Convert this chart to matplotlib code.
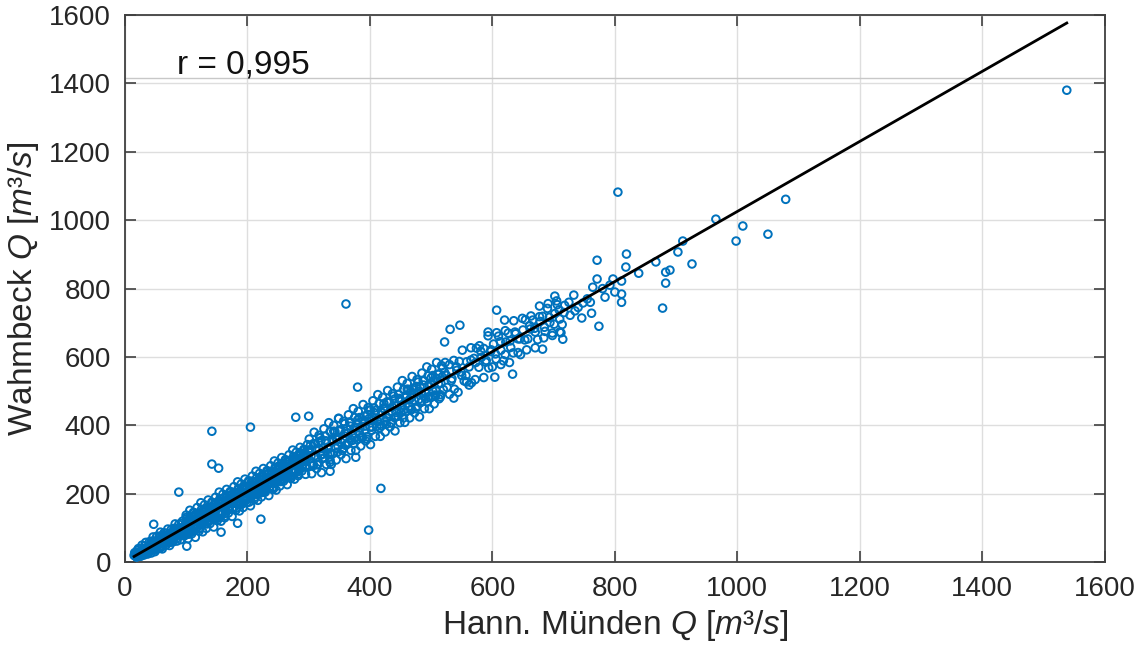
import matplotlib

matplotlib.use("Agg")
import matplotlib.pyplot as plt
import numpy as np

# ---------------------------------------------------------------------------
# data: daily discharge pairs, Hann. Münden (x) vs Wahmbeck (y), m3/s
# ---------------------------------------------------------------------------
low_x = [15, 17, 19, 21, 23, 25, 27, 29, 31, 33, 35, 37, 39, 41, 43, 45, 47, 49, 51, 53,
         55, 57, 59, 61, 63, 65, 67, 69, 71, 73, 75, 77, 79, 81, 83, 85, 87, 89, 91, 93,
         95, 97, 99,
         16, 18, 20, 22, 24, 26, 28, 30, 32, 34, 36, 38, 40, 42, 44, 46, 48, 50, 52, 54,
         56, 58, 60, 62, 64, 66, 68, 70, 72, 74, 76, 78, 80, 82, 84, 86, 88, 90, 92, 94,
         96, 98, 100,
         18, 21, 24, 27, 30, 33, 36, 39, 42, 45, 48, 51, 54, 57, 60, 63, 66, 69, 72, 75,
         78, 81, 84, 87, 90, 93, 96, 99]
low_y = [20, 19, 24, 21, 20, 28, 32, 27, 28, 39, 36, 32, 43, 48, 40, 47, 56, 45, 41, 58,
         56, 44, 64, 76, 57, 67, 78, 66, 60, 83, 76, 63, 85, 96, 77, 87, 98, 86, 81, 98,
         96, 82, 105,
         24, 17, 26, 25, 21, 30, 35, 28, 30, 42, 37, 31, 49, 55, 36, 50, 62, 44, 40, 63,
         57, 42, 70, 80, 57, 67, 79, 64, 58, 84, 78, 62, 90, 97, 78, 88, 100, 85, 78, 100,
         98, 80, 109,
         22, 28, 25, 26, 35, 31, 41, 37, 39, 52, 46, 58, 50, 62, 55, 70, 60, 75, 71, 68,
         88, 79, 92, 82, 97, 90, 104, 94]

low_outer_x = [16, 19, 22, 25, 28, 31, 34, 37, 40, 43, 46, 49, 52, 55, 58, 61, 64, 67, 70,
               73, 76, 79, 82, 85, 88, 91, 94, 97, 100,
               20, 26, 32, 38, 44, 50, 56, 62, 68, 74, 80, 86, 92, 98]
low_outer_y = [28, 15, 40, 18, 50, 21, 58, 24, 60, 27, 74, 31, 76, 40, 88, 39, 86, 50, 97,
               49, 97, 60, 112, 62, 111, 66, 120, 77, 131,
               34, 18, 48, 27, 62, 37, 76, 47, 85, 58, 99, 72, 113, 82]

band_x = [101, 103, 105, 107, 109, 111, 113, 115, 117, 119, 121, 123, 125, 127, 129, 131,
          133, 135, 137, 139, 141, 143, 145, 147, 149, 151, 153, 155, 157, 159, 161, 163,
          165, 167, 169, 171, 173, 175, 177, 179, 181, 183, 185, 187, 189, 191, 193, 195,
          197, 199, 201, 203, 205, 207, 209, 211, 213, 215, 217, 219, 221, 223, 225, 227,
          229, 231, 233, 235, 237, 239, 241, 243, 245, 247, 249, 251, 253, 255, 257, 259,
          261, 263, 265, 267, 269, 271, 273, 275, 277, 279, 281, 283, 285, 287, 289, 291,
          293, 295, 297, 299,
          102, 104, 106, 108, 110, 112, 114, 116, 118, 120, 122, 124, 126, 128, 130, 132,
          134, 136, 138, 140, 142, 144, 146, 148, 150, 152, 154, 156, 158, 160, 162, 164,
          166, 168, 170, 172, 174, 176, 178, 180, 182, 184, 186, 188, 190, 192, 194, 196,
          198, 200, 202, 204, 206, 208, 210, 212, 214, 216, 218, 220, 222, 224, 226, 228,
          230, 232, 234, 236, 238, 240, 242, 244, 246, 248, 250, 252, 254, 256, 258, 260,
          262, 264, 266, 268, 270, 272, 274, 276, 278, 280, 282, 284, 286, 288, 290, 292,
          294, 296, 298, 300]
band_y = [116, 93, 127, 106, 91, 118, 132, 109, 103, 132, 123, 101, 135, 150, 121, 136,
          151, 132, 121, 148, 156, 133, 167, 146, 131, 160, 177, 148, 140, 175, 163, 135,
          178, 196, 159, 177, 195, 171, 157, 190, 200, 170, 212, 186, 167, 200, 217, 188,
          180, 215, 204, 176, 219, 237, 200, 218, 236, 212, 198, 231, 241, 211, 253, 227,
          208, 241, 258, 229, 221, 256, 244, 216, 259, 277, 240, 260, 278, 254, 240, 273,
          283, 253, 295, 269, 250, 283, 300, 271, 263, 298, 286, 258, 301, 319, 282, 300,
          318, 294, 280, 313,
          97, 91, 122, 110, 90, 122, 138, 108, 122, 138, 118, 110, 135, 141, 120, 154,
          133, 119, 145, 159, 137, 131, 162, 150, 130, 163, 179, 149, 163, 179, 159, 151,
          176, 182, 161, 195, 174, 160, 186, 200, 178, 172, 203, 191, 171, 203, 219, 189,
          203, 219, 200, 192, 217, 223, 202, 236, 215, 201, 227, 241, 219, 213, 244, 232,
          212, 244, 260, 230, 244, 260, 240, 232, 257, 263, 242, 278, 257, 243, 269, 283,
          261, 255, 286, 274, 254, 286, 302, 272, 286, 302, 282, 274, 299, 305, 284, 318,
          297, 283, 309, 323]

band_outer_x = [100, 103, 106, 109, 112, 115, 118, 121, 124, 127, 130, 133, 136, 139, 142,
                145, 148, 151, 154, 157, 160, 163, 166, 169, 172, 175, 178, 181, 184, 187,
                190, 193, 196, 199, 202, 205, 208, 211, 214, 217, 220, 223, 226, 229, 232,
                235, 238, 241, 244, 247, 250, 253, 256, 259, 262, 265, 268, 271, 274, 277,
                280, 283, 286, 289, 292, 295, 298,
                101, 104, 107, 110, 113, 116, 119, 122, 125, 128, 131, 134, 137, 140, 143,
                146, 149, 152, 155, 158, 161, 164, 167, 170, 173, 176, 179, 182, 185, 188,
                191, 194, 197, 200, 203, 206, 209, 212, 215, 218, 221, 224, 227, 230, 233,
                236, 239, 242, 245, 248, 251, 254, 257, 260, 263, 266, 269, 272, 275, 278,
                281, 284, 287, 290, 293, 296, 299]
band_outer_y = [138, 69, 152, 83, 146, 73, 160, 91, 174, 89, 168, 99, 182, 113, 176,
                103, 190, 122, 205, 120, 199, 130, 213, 144, 207, 134, 221, 152, 235, 150,
                229, 160, 243, 174, 238, 165, 252, 183, 266, 181, 260, 191, 274, 205, 268,
                195, 282, 213, 296, 211, 290, 223, 306, 237, 300, 227, 314, 245, 328, 243,
                322, 253, 336, 267, 330, 257, 344,
                127, 82, 129, 94, 144, 97, 143, 98, 154, 114, 157, 112, 159, 124, 174,
                127, 173, 129, 185, 145, 188, 143, 190, 155, 205, 158, 204, 159, 215, 175,
                218, 173, 220, 185, 236, 189, 235, 190, 246, 206, 249, 204, 251, 216, 266,
                219, 265, 220, 276, 236, 281, 236, 283, 248, 298, 251, 297, 252, 308, 268,
                311, 266, 313, 278, 328, 281, 327]

mid_x = [302, 305, 308, 311, 314, 317, 320, 323, 326, 329, 332, 335, 338, 341, 344, 347,
         350, 353, 356, 359, 362, 365, 368, 371, 374, 377, 380, 383, 386, 389, 392, 395,
         398, 401, 404, 407, 410, 413, 416, 419, 422, 425, 428, 431, 434, 437, 440, 443,
         446, 449, 452, 455, 458, 461, 464, 467, 470, 473, 476, 479, 482, 485, 488, 491,
         494, 497, 500, 503, 506, 509, 512, 515, 518,
         304, 308, 312, 316, 320, 324, 328, 332, 336, 340, 344, 348, 352, 356, 360, 364,
         368, 372, 376, 380, 384, 388, 392, 396, 400, 404, 408, 412, 416, 420, 424, 428,
         432, 436, 440, 444, 448, 452, 456, 460, 464, 468, 472, 476, 480, 484, 488, 492,
         496, 500, 504, 508, 512, 516, 520]
mid_y = [329, 289, 347, 312, 285, 331, 355, 316, 305, 353, 337, 299, 358, 383, 333, 358,
         383, 351, 332, 377, 390, 350, 408, 373, 346, 392, 416, 377, 366, 414, 398, 360,
         419, 445, 395, 420, 444, 412, 393, 438, 451, 411, 469, 434, 407, 453, 477, 438,
         427, 475, 460, 422, 481, 506, 456, 481, 505, 473, 454, 499, 512, 472, 530, 495,
         468, 514, 539, 500, 489, 537, 521, 483, 542,
         311, 285, 329, 351, 313, 333, 355, 331, 321, 355, 365, 339, 386, 360, 342, 378,
         398, 370, 364, 406, 392, 366, 410, 432, 395, 415, 437, 413, 403, 437, 447, 421,
         467, 441, 423, 459, 479, 452, 446, 488, 474, 448, 492, 514, 476, 496, 518, 494,
         484, 519, 529, 503, 549, 523, 505]

mid_outer_x = [301, 305, 309, 313, 317, 321, 325, 329, 333, 337, 341, 345, 349, 353, 357,
               361, 365, 369, 373, 377, 381, 385, 389, 393, 397, 401, 405, 409, 413, 417,
               421, 425, 429, 433, 437, 441, 445, 449, 453, 457, 461, 465, 469, 473, 477,
               481, 485, 489, 493, 497, 501, 505, 509, 513, 517,
               303, 307, 311, 315, 319, 323, 327, 331, 335, 339, 343, 347, 351, 355, 359,
               363, 367, 371, 375, 379, 383, 387, 391, 395, 399, 403, 407, 411, 415, 419,
               423, 427, 431, 435, 439, 443, 447, 451, 455, 459, 463, 467, 471, 475, 479,
               483, 487, 491, 495, 499, 503, 507, 511, 515, 519]
mid_outer_y = [360, 259, 380, 274, 371, 262, 390, 286, 408, 286, 400, 299, 420, 315, 412,
               303, 431, 327, 449, 327, 441, 340, 461, 355, 452, 344, 472, 368, 490, 368,
               482, 381, 502, 396, 493, 384, 512, 408, 531, 409, 523, 422, 543, 437, 534,
               425, 553, 449, 571, 449, 564, 463, 584, 478, 575,
               342, 282, 346, 286, 364, 304, 369, 315, 382, 317, 382, 322, 387, 327, 405,
               345, 410, 356, 423, 358, 423, 363, 427, 367, 445, 386, 451, 397, 464, 399,
               464, 404, 468, 408, 486, 426, 491, 438, 505, 440, 505, 445, 509, 449, 527,
               467, 532, 478, 545, 481, 546, 486, 550, 490, 568]

high_x = [522, 526, 530, 534, 538, 542, 546, 550, 554, 558, 562, 566, 570, 574, 578, 582,
          586, 590, 594, 598, 602, 606, 610, 614, 618, 622, 626, 630, 634, 638, 642, 646,
          650, 654, 658, 662, 666, 670, 674, 678, 682, 686, 690, 694, 698, 702, 706, 710,
          714, 718,
          525, 533, 541, 549, 557, 565, 573, 581, 589, 597, 605, 613, 621, 629, 637, 645,
          653, 661, 669, 677, 685, 693, 701, 709, 717,
          523, 530, 537, 544, 551, 558, 565, 572, 579, 586, 593, 600, 607, 614, 621, 628,
          635, 642, 649, 656, 663, 670, 677, 684, 691, 698, 705, 712,
          702, 733, 727, 746, 748, 762, 764, 774, 771, 771, 784, 797, 800, 811, 811, 811,
          818, 819, 839, 867, 878, 883, 883, 890, 903, 911, 926, 710, 715, 740, 755, 725,
          735, 760, 780, 792]
high_y = [555, 511, 578, 537, 506, 561, 587, 546, 530, 586, 571, 525, 596, 626, 570, 599,
          625, 590, 568, 621, 638, 594, 661, 620, 589, 644, 670, 628, 612, 668, 653, 607,
          679, 709, 653, 682, 708, 673, 651, 704, 719, 675, 742, 701, 670, 727, 753, 711,
          695, 751,
          546, 531, 572, 556, 546, 591, 584, 617, 585, 616, 609, 645, 607, 647, 673, 653,
          650, 692, 684, 718, 687, 716, 696, 738, 730,
          584, 491, 590, 497, 620, 527, 627, 534, 633, 540, 662, 571, 671, 578, 677, 584,
          706, 613, 713, 621, 720, 627, 749, 656, 756, 663, 764, 671,
          778, 781, 722, 714, 758, 728, 804, 690, 883, 828, 775, 828, 790, 822, 784, 760,
          863, 901, 845, 878, 743, 816, 848, 854, 907, 939, 872, 673, 652, 745, 770, 760,
          735, 760, 800, 810]

outlier_x = [47, 101, 88, 142, 142, 153, 157, 184, 205, 222, 279, 300, 335, 335, 349, 361,
             377, 380, 398, 418, 522, 531, 537, 547, 562, 593, 604, 607, 620, 633, 682,
             805, 965, 998, 1009, 1050, 1079, 1538]
outlier_y = [111, 47, 205, 383, 287, 275, 88, 114, 395, 126, 424, 427, 292, 266, 421, 755,
             307, 512, 94, 216, 644, 681, 480, 693, 518, 673, 541, 737, 708, 550, 623,
             1082, 1003, 939, 983, 959, 1061, 1380]

# linear fit shown in the chart
fit_slope = 1.024
fit_intercept = 1.5
r_value = "0,995"

BLUE = "#0072BD"
GRID = "#dedede"
AXC = "#404040"

plt.rcParams["font.family"] = ["Liberation Sans", "DejaVu Sans"]
plt.rcParams["mathtext.fontset"] = "custom"
plt.rcParams["mathtext.it"] = "Liberation Sans:italic"
plt.rcParams["mathtext.rm"] = "Liberation Sans"
plt.rcParams["mathtext.default"] = "it"

fig = plt.figure(figsize=(11.46, 6.5), dpi=100)
ax = fig.add_axes([0.109, 0.135, 0.855, 0.842])

xs = np.concatenate([low_x, low_outer_x, band_x, band_outer_x, mid_x, mid_outer_x,
                     high_x, outlier_x])
ys = np.concatenate([low_y, low_outer_y, band_y, band_outer_y, mid_y, mid_outer_y,
                     high_y, outlier_y])
ax.scatter(xs, ys, s=30, facecolors="none", edgecolors=BLUE, linewidths=1.4, zorder=3)

fx = np.array([xs.min(), xs.max()])
ax.plot(fx, fit_intercept + fit_slope * fx, color="black", lw=2, zorder=4)

ax.text(85, 1453, f"r = {r_value}", fontsize=24, va="center", ha="left", color="#111111")
ax.axhline(1415, color="#c8c8c8", lw=1, zorder=1)

ax.set_xlim(0, 1600)
ax.set_ylim(0, 1600)
ax.set_xticks(np.arange(0, 1601, 200))
ax.set_yticks(np.arange(0, 1601, 200))
ax.grid(True, color=GRID, lw=1)
ax.set_axisbelow(True)
ax.tick_params(direction="in", length=8, width=1.2, top=True, right=True,
               labelsize=20, colors=AXC, labelcolor="#262626", pad=10)
for s in ax.spines.values():
    s.set_color(AXC)
    s.set_linewidth(1.3)

ax.set_xlabel(r"Hann. Münden $\mathit{Q\ [m³/s]}$", fontsize=24, color="#262626", labelpad=4)
ax.set_ylabel(r"Wahmbeck $\mathit{Q\ [m³/s]}$", fontsize=24, color="#262626", labelpad=6)

fig.savefig("out.png", dpi=100)
